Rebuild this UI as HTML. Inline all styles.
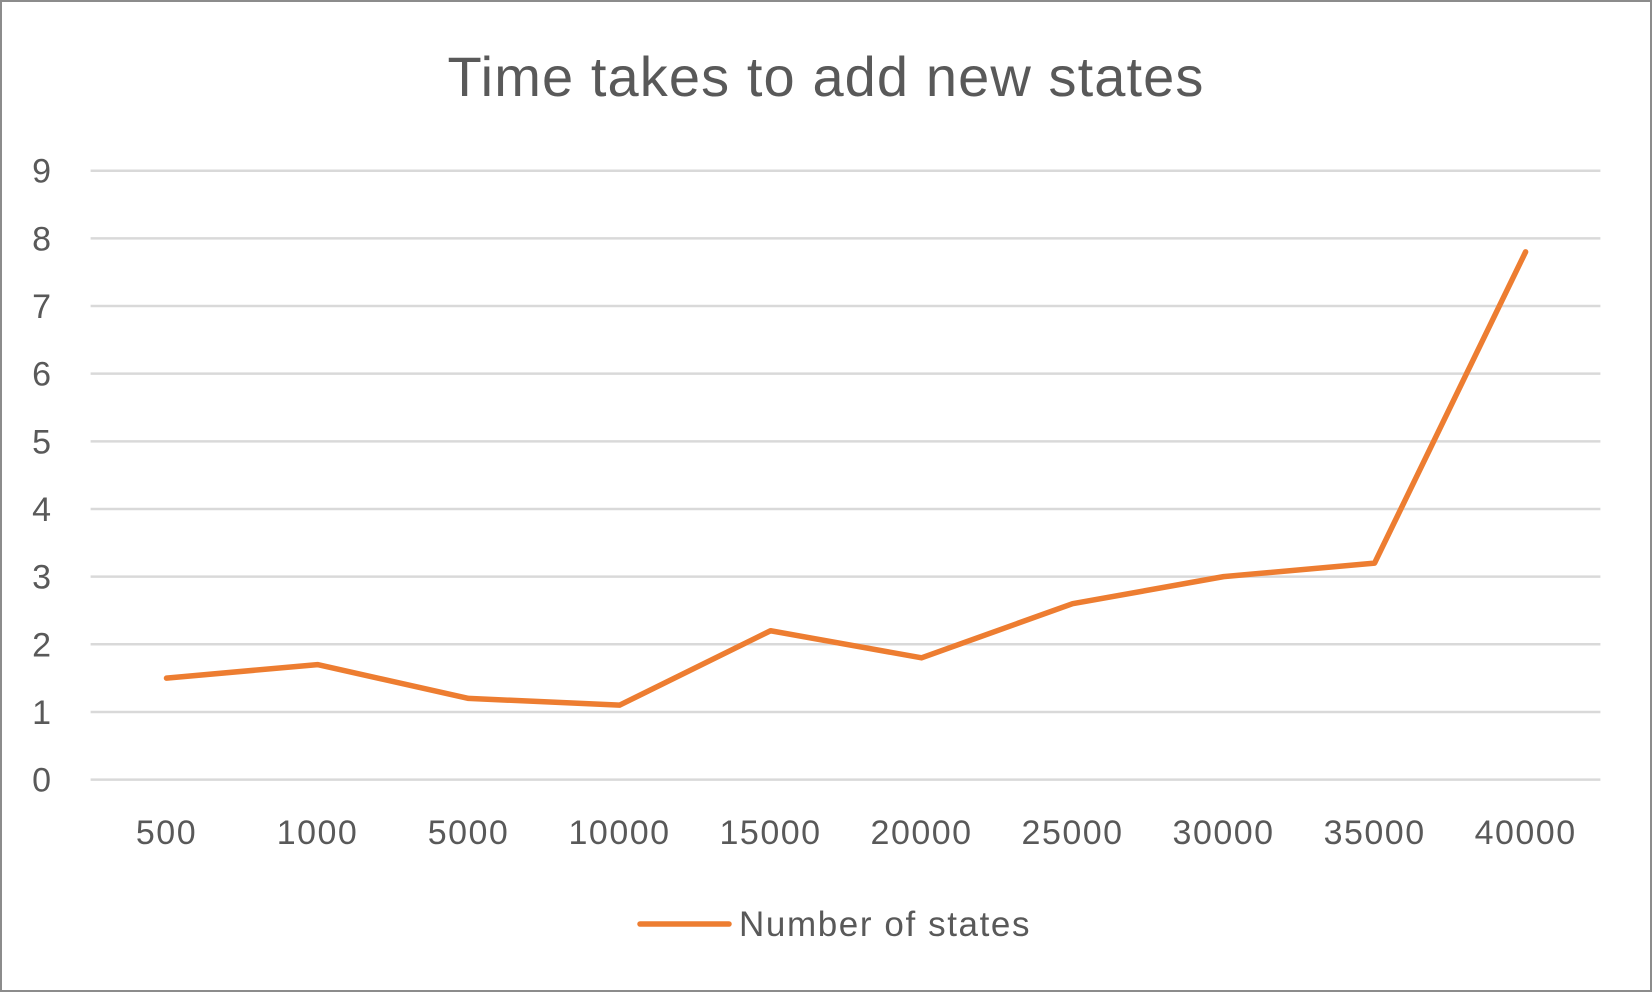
<!DOCTYPE html>
<html><head><meta charset="utf-8"><style>
html,body{margin:0;padding:0;background:#fff}
svg{display:block;font-family:"Liberation Sans",sans-serif}
</style></head><body>
<svg id="chart" width="1652" height="992">
<rect x="1" y="1" width="1650" height="990" fill="#fff" stroke="#8c8c8c" stroke-width="2"/>
<text x="826" y="96" text-anchor="middle" font-size="56" letter-spacing="1.1" fill="#595959">Time takes to add new states</text>
<g id="grid"></g><g id="ylabels"></g><g id="xlabels"></g><g id="series"></g>
<line x1="640" y1="924" x2="729" y2="924" stroke="#ed7d31" stroke-width="5.5" stroke-linecap="round"/>
<text x="739" y="936" font-size="35" letter-spacing="1.6" fill="#595959">Number of states</text>
</svg>
<script>
const categories=["500","1000","5000","10000","15000","20000","25000","30000","35000","40000"];
const values=[1.5,1.7,1.2,1.1,2.2,1.8,2.6,3.0,3.2,7.8];
const yTicks=[0,1,2,3,4,5,6,7,8,9];
const NS="http://www.w3.org/2000/svg";
const L=90.6,R=1600.4,T=170.7,B=779.6,yMax=9;
const xs=i=>166.5+i*(1525.6-166.5)/(categories.length-1);
const ys=v=>B-(v/yMax)*(B-T);
function mk(t,a,p){const e=document.createElementNS(NS,t);for(const k in a)e.setAttribute(k,a[k]);p.appendChild(e);return e;}
const g=document.getElementById('grid'),yl=document.getElementById('ylabels'),xl=document.getElementById('xlabels'),s=document.getElementById('series');
yTicks.forEach(v=>{
 const ln=mk('line',{x1:L,x2:R,y1:ys(v),y2:ys(v),stroke:'#d9d9d9','stroke-width':2.5},g);
 
 
 const t=mk('text',{x:51,y:ys(v)+12,'text-anchor':'end','font-size':34,fill:'#595959'},yl);
 t.textContent=v;
 
 
});
categories.forEach((c,i)=>{
 const t=mk('text',{x:xs(i),y:844,'text-anchor':'middle','font-size':34,'letter-spacing':1.5,fill:'#595959'},xl);
 t.textContent=c;
 
 
});
const pl=mk('polyline',{points:values.map((v,i)=>xs(i)+','+ys(v)).join(' '),fill:'none',stroke:'#ed7d31','stroke-width':5.5,'stroke-linejoin':'round','stroke-linecap':'round'},s);


</script>
</body></html>
